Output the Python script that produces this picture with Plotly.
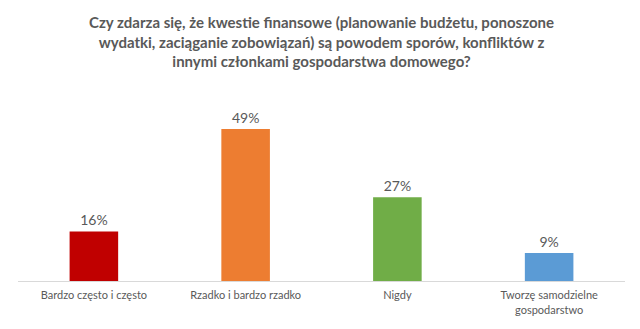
import plotly.graph_objects as go

categories = ["Bardzo często i często", "Rzadko i bardzo rzadko", "Nigdy",
              "Tworzę samodzielne<br>gospodarstwo"]
values = [16, 49, 27, 9]
colors = ["#C00000", "#ED7D31", "#70AD47", "#5B9BD5"]
title_text = ("Czy zdarza się, że kwestie finansowe (planowanie budżetu, ponoszone<br>"
              "wydatki, zaciąganie zobowiązań) są powodem sporów, konfliktów z<br>"
              "innymi członkami gospodarstwa domowego?")

fig = go.Figure(go.Bar(
    x=categories,
    y=values,
    marker=dict(color=colors, line=dict(width=0)),
    text=[f"{v}%" for v in values],
    textposition="outside",
    textfont=dict(size=14, color="#595959", family="Lato"),
    cliponaxis=False,
))

fig.add_annotation(
    text=f"<b>{title_text}</b>",
    xref="paper", yref="paper", x=0.5, y=1.285,
    xanchor="center", yanchor="middle", showarrow=False, align="center",
    font=dict(family="Lato", size=15, color="#595959"),
)

fig.update_layout(
    width=640, height=329,
    margin=dict(l=18, r=15, t=95, b=48),
    paper_bgcolor="white", plot_bgcolor="white",
    bargap=0.68,
    showlegend=False,
    font=dict(family="Lato", color="#595959"),
)
fig.update_xaxes(showline=True, linecolor="#D9D9D9", linewidth=1, showgrid=False,
                 ticks="", ticklabelstandoff=4, tickfont=dict(size=11, color="#595959"))
fig.update_yaxes(range=[0, 60], visible=False, showgrid=False)

fig.write_html("out.html")
